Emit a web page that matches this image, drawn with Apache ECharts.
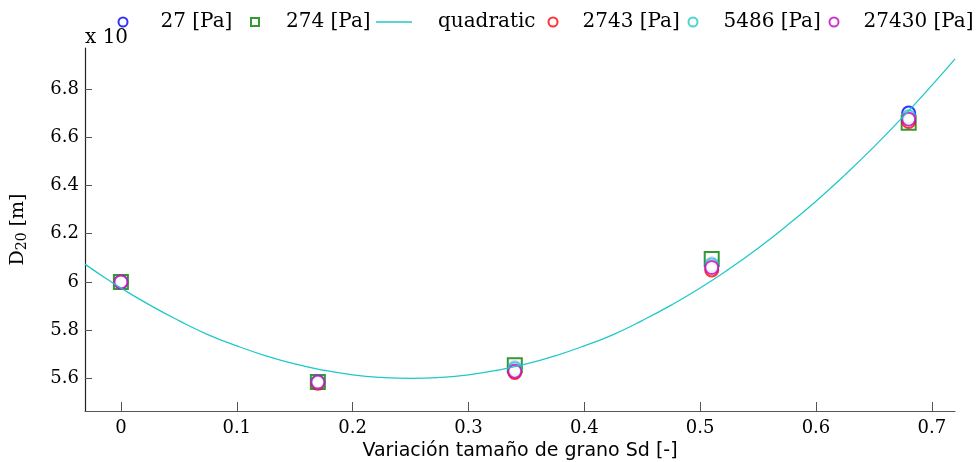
<!DOCTYPE html>
<html>
<head>
<meta charset="utf-8">
<script src="https://cdn.jsdelivr.net/npm/echarts@6/dist/echarts.min.js"></script>
<style>
  html, body { margin: 0; padding: 0; background: #fff; }
  #chart { width: 980px; height: 462px; }
</style>
</head>
<body>
<div id="chart"></div>
<script>
// Grain size sorting (Sd) vs characteristic diameter D20, for several stress levels
const sdValues = [0, 0.17, 0.34, 0.51, 0.68];

const d20_27Pa    = [6.00, 5.585, 5.645, 6.075, 6.700];
const d20_274Pa   = [6.00, 5.585, 5.655, 6.095, 6.660];
const d20_2743Pa  = [6.00, 5.580, 5.625, 6.050, 6.665];
const d20_5486Pa  = [6.00, 5.585, 5.640, 6.070, 6.685];
const d20_27430Pa = [6.00, 5.585, 5.630, 6.060, 6.675];

// Quadratic fit, sampled along Sd
const fitX = [-0.031, -0.0125, 0, 0.025, 0.05, 0.075, 0.1, 0.125, 0.15, 0.175, 0.2, 0.225, 0.25, 0.275, 0.3, 0.325, 0.35,
              0.375, 0.4, 0.425, 0.45, 0.475, 0.5, 0.525, 0.55, 0.575, 0.6, 0.625, 0.65, 0.675, 0.7, 0.72];
const fitY = [6.074, 6.013, 5.975, 5.904, 5.840, 5.782, 5.735, 5.694, 5.660, 5.634, 5.615, 5.604, 5.600, 5.604, 5.615, 5.634, 5.660,
              5.694, 5.735, 5.782, 5.840, 5.904, 5.975, 6.054, 6.140, 6.234, 6.335, 6.444, 6.560, 6.684, 6.815, 6.925];

const xTicks = [0, 0.1, 0.2, 0.3, 0.4, 0.5, 0.6, 0.7];
const yTicks = [5.6, 5.8, 6.0, 6.2, 6.4, 6.6, 6.8];

const serif = 'DejaVu Serif';
const pair = (xs, ys) => xs.map((x, i) => [x, ys[i]]);

const scatterSeries = (name, values, color, symbol, size) => ({
  name, type: 'scatter', data: pair(sdValues, values),
  symbol, symbolSize: size,
  itemStyle: { color: color, borderColor: color, borderWidth: 2.2 },
  z: 3
});

const legendAt = (item, left, iconW, iconH, textPad) => ({
  data: [item], left: left, top: 12, padding: 0,
  itemWidth: iconW, itemHeight: iconH,
  textStyle: { fontFamily: serif, fontSize: 20, color: '#000', padding: [0, 0, 0, textPad] },
  selectedMode: false
});

const chart = echarts.init(document.getElementById('chart'));
chart.setOption({
  animation: false,
  backgroundColor: '#fff',
  grid: { left: 85, right: 25, top: 48, bottom: 51, containLabel: false, outerBoundsMode: 'none' },
  legend: [
    legendAt('27 [Pa]', 117.5, 9, 9, 28),
    legendAt('274 [Pa]', 250, 8, 8, 22),
    legendAt({ name: 'quadratic', icon: 'rect', itemStyle: { color: '#20c8c8' } }, 376, 36, 1.4, 21),
    legendAt('2743 [Pa]', 547.5, 9, 9, 20),
    legendAt('5486 [Pa]', 687.5, 9, 9, 21),
    legendAt('27430 [Pa]', 828.5, 9, 9, 20)
  ],
  graphic: [{
    type: 'text', left: 85, top: 28,
    style: { text: 'x 10', font: '20px "DejaVu Serif"', fill: '#000' }
  }],
  xAxis: {
    type: 'value', min: -0.031, max: 0.72,
    name: 'Variación tamaño de grano Sd [-]',
    nameLocation: 'middle', nameGap: 30,
    nameTextStyle: { fontFamily: 'DejaVu Sans', fontSize: 19, color: '#000' },
    axisLine: { lineStyle: { color: '#555', width: 1.2 } },
    axisTick: { inside: true, length: 9, customValues: xTicks, lineStyle: { color: '#555' } },
    axisLabel: { customValues: xTicks, fontFamily: serif, fontSize: 18, color: '#000', margin: 8 },
    splitLine: { show: false }
  },
  yAxis: {
    type: 'value', min: 5.465, max: 6.97,
    name: '{d|D}{s|20}{d| [m]}',
    nameLocation: 'middle', nameGap: 56, nameRotate: 90,
    nameTextStyle: {
      rich: {
        d: { fontFamily: serif, fontSize: 19, color: '#000' },
        s: { fontFamily: serif, fontSize: 14, color: '#000', verticalAlign: 'bottom', padding: [8, 0, 0, 0] }
      }
    },
    axisLine: { show: true, onZero: false, lineStyle: { color: '#222', width: 1.2 } },
    axisTick: { show: true, inside: true, length: 7, customValues: yTicks, lineStyle: { color: '#555' } },
    axisLabel: { customValues: yTicks, fontFamily: serif, fontSize: 18, color: '#000', margin: 6,
                 formatter: v => (Math.abs(v - 6) < 1e-9 ? '6' : v.toFixed(1)) },
    splitLine: { show: false }
  },
  series: [
    scatterSeries('27 [Pa]', d20_27Pa, '#0000ff', 'emptyCircle', 13),
    scatterSeries('274 [Pa]', d20_274Pa, '#008000', 'emptyRect', 14),
    {
      name: 'quadratic', type: 'line', data: pair(fitX, fitY),
      smooth: true, symbol: 'none', showSymbol: false,
      lineStyle: { color: '#20c8c8', width: 1.3 },
      itemStyle: { color: '#20c8c8' }, z: 4
    },
    scatterSeries('2743 [Pa]', d20_2743Pa, '#ff0000', 'emptyCircle', 13),
    scatterSeries('5486 [Pa]', d20_5486Pa, '#20c8c8', 'emptyCircle', 13),
    scatterSeries('27430 [Pa]', d20_27430Pa, '#c000c0', 'emptyCircle', 13)
  ]
});
</script>
</body>
</html>
